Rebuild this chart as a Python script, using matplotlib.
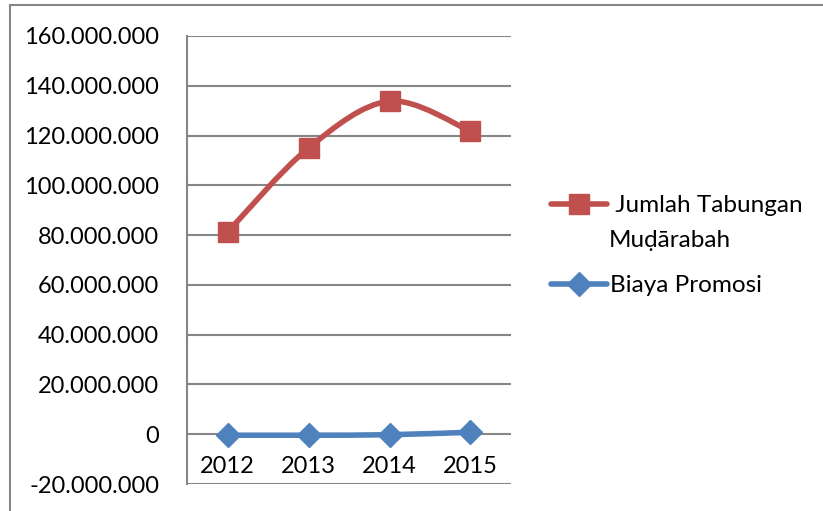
import matplotlib
matplotlib.use("Agg")
import matplotlib.pyplot as plt
import numpy as np
from matplotlib.path import Path
from matplotlib.patches import PathPatch
from matplotlib.lines import Line2D
from matplotlib.ticker import FuncFormatter

# data
years = ["2012", "2013", "2014", "2015"]
tabungan = [81_200_000, 115_000_000, 133_800_000, 121_800_000]
promosi = [-400_000, -400_000, -200_000, 800_000]
yticks = list(range(-20_000_000, 160_000_001, 20_000_000))
labels = [" Jumlah Tabungan\nMuḍārabah", "Biaya Promosi"]

RED = "#C0504D"
BLUE = "#4F81BD"
GRID = "#868686"
FONT = ["Lato", "DejaVu Sans"]
W, H = 823, 511

plt.rcParams["font.family"] = FONT


def smooth_path(xs, ys, tension=1 / 6):
    # Excel-like smoothed line: cubic bezier through the points
    xs = np.asarray(xs, float)
    ys = np.asarray(ys, float)
    n = len(xs)
    verts = [(xs[0], ys[0])]
    codes = [Path.MOVETO]
    for i in range(n - 1):
        p0 = (xs[max(i - 1, 0)], ys[max(i - 1, 0)])
        p1 = (xs[i], ys[i])
        p2 = (xs[i + 1], ys[i + 1])
        p3 = (xs[min(i + 2, n - 1)], ys[min(i + 2, n - 1)])
        c1 = (p1[0] + (p2[0] - p0[0]) * tension, p1[1] + (p2[1] - p0[1]) * tension)
        c2 = (p2[0] - (p3[0] - p1[0]) * tension, p2[1] - (p3[1] - p1[1]) * tension)
        verts += [c1, c2, p2]
        codes += [Path.CURVE4] * 3
    return Path(verts, codes)


fig = plt.figure(figsize=(W / 100, H / 100), dpi=100)
ax = fig.add_axes([187 / W, 27 / H, 324 / W, 448 / H])

x = np.arange(len(years))
styles = [(tabungan, RED, "s", 14), (promosi, BLUE, "D", 12)]

for vals, col, mk, ms in styles:
    ax.add_patch(PathPatch(smooth_path(x, vals), facecolor="none", edgecolor=col,
                           lw=4, capstyle="round", zorder=3))
    ax.plot(x, vals, ls="none", marker=mk, ms=ms, color=col, zorder=4)

ax.set_xlim(-0.5, len(years) - 0.5)
ax.set_ylim(yticks[0], yticks[-1])
ax.set_yticks(yticks)
ax.yaxis.set_major_formatter(FuncFormatter(lambda v, p: f"{int(v):,}".replace(",", ".")))
ax.grid(axis="y", color=GRID, lw=1.5)
ax.set_axisbelow(True)

ax.set_xticks(x)
ax.set_xticklabels(years)
ax.tick_params(axis="x", length=0, pad=-20, labelsize=17)
ax.tick_params(axis="y", length=0, pad=20, labelsize=17)

for s in ["top", "right", "bottom"]:
    ax.spines[s].set_visible(False)
ax.spines["left"].set_color(GRID)
ax.spines["left"].set_linewidth(1.5)

# legend drawn by hand so the handle sits on the first text line (Excel style)
leg_rows = [204, 284]
for (vals, col, mk, ms), lab, yy in zip(styles, labels, leg_rows):
    yf = 1 - yy / H
    fig.add_artist(Line2D([551 / W, 607 / W], [yf, yf], color=col, lw=4,
                          solid_capstyle="round"))
    fig.add_artist(Line2D([579 / W], [yf], color=col, ls="none", marker=mk, ms=ms))
    tx = 610 if col == BLUE else 609
    fig.text(tx / W, yf + 9 / H, lab, fontsize=17.5, va="top", ha="left",
             linespacing=1.8)

# outer chart frame (only left and top edges visible)
fig.add_artist(Line2D([10 / W, 10 / W], [0, 1 - 5 / H], color=GRID, lw=1.5))
fig.add_artist(Line2D([10 / W, 1], [1 - 5 / H, 1 - 5 / H], color=GRID, lw=1.5))

fig.savefig("out.png", dpi=100)
